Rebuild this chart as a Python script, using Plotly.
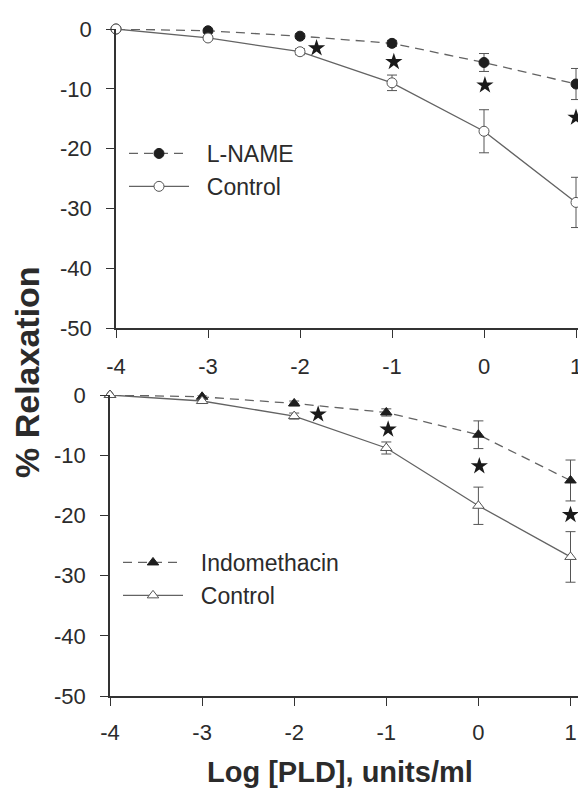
import plotly.graph_objects as go

# Log concentration of PLD (units/ml)
log_pld = [-4, -3, -2, -1, 0, 1]

# Upper panel: L-NAME vs control
lname_mean = [0, -0.3, -1.2, -2.4, -5.6, -9.2]
lname_sem = [0, 0.3, 0.4, 0.5, 1.5, 2.6]
control_a_mean = [0, -1.5, -3.8, -9.0, -17.1, -29.0]
control_a_sem = [0, 0.3, 0.5, 1.3, 3.6, 4.2]
sig_a_x = [-1.82, -0.98, 0.01, 1.0]
sig_a_y = [-3.2, -5.5, -9.4, -14.8]

# Lower panel: indomethacin vs control
indo_mean = [0, -0.3, -1.4, -2.9, -6.6, -14.2]
indo_sem = [0, 0.3, 0.4, 0.6, 2.3, 3.4]
control_b_mean = [0, -1.0, -3.5, -8.8, -18.4, -26.9]
control_b_sem = [0, 0.3, 0.5, 1.0, 3.1, 4.2]
sig_b_x = [-1.74, -0.98, 0.01, 1.0]
sig_b_y = [-3.2, -5.7, -11.8, -19.9]

y_ticks = [0, -10, -20, -30, -40, -50]
y_ticktext = ["0", "-10", "-20", "-30", "-40", "-50"]
x_ticks = [-4, -3, -2, -1, 0, 1]
x_ticktext = ["-4", "-3", "-2", "-1", "0", "1"]

W, H = 578, 789
FONT = "Arial, Liberation Sans, sans-serif"
INK = "#2b2b2b"
LINE = "#636363"
NB = "\u00a0\u00a0"

fig = go.Figure()


def add_series(x, y, err, name, symbol, filled, dash, xa, ya, legend):
    fig.add_trace(go.Scatter(
        x=x, y=y, name=NB + name, mode="lines+markers",
        xaxis=xa, yaxis=ya, legend=legend, cliponaxis=False,
        line=dict(color=LINE, width=1.3, dash=dash),
        marker=dict(symbol=symbol, size=10,
                    color="#1e1e1e" if filled else "white",
                    line=dict(color="#1e1e1e" if filled else "#555", width=1)),
        error_y=dict(type="data", array=err, visible=True,
                     color="#555", thickness=1, width=5),
    ))


add_series(log_pld, lname_mean, lname_sem, "L-NAME", "circle", True,
           "9px,6px", "x", "y", "legend")
add_series(log_pld, control_a_mean, control_a_sem, "Control", "circle",
           False, "solid", "x", "y", "legend")
add_series(log_pld, indo_mean, indo_sem, "Indomethacin", "triangle-up", True,
           "9px,6px", "x2", "y2", "legend2")
add_series(log_pld, control_b_mean, control_b_sem, "Control", "triangle-up",
           False, "solid", "x2", "y2", "legend2")

for sx, sy, xa, ya in [(sig_a_x, sig_a_y, "x", "y"), (sig_b_x, sig_b_y, "x2", "y2")]:
    fig.add_trace(go.Scatter(
        x=sx, y=sy, mode="markers", xaxis=xa, yaxis=ya, showlegend=False,
        cliponaxis=False,
        marker=dict(symbol="star", size=13, color="#1a1a1a",
                    line=dict(width=0)),
    ))

# pixel geometry of the two panels
top_x0, top_step = 116, 92.0
bot_x0, bot_step = 110, 92.1
top_y0, top_y1 = 29, 328
bot_y0, bot_y1 = 395, 696


def py(p):
    return 1 - p / H


axis_common = dict(
    showline=True, linecolor="#333", linewidth=1.5,
    ticks="outside", ticklen=8, tickwidth=1.2, tickcolor="#333",
    showgrid=False, zeroline=False, automargin=False,
    tickfont=dict(family=FONT, size=22, color=INK),
)

legend_common = dict(
    xanchor="left", yanchor="top", bgcolor="rgba(0,0,0,0)", itemwidth=60,
    font=dict(family=FONT, size=23, color=INK), tracegroupgap=0,
)

fig.update_layout(
    template="none",
    width=W, height=H,
    margin=dict(l=0, r=0, t=0, b=0, pad=0, autoexpand=False),
    paper_bgcolor="white", plot_bgcolor="white",
    xaxis=dict(axis_common, domain=[top_x0 / W, 1],
               range=[-4, -4 + (W - top_x0) / top_step],
               tickvals=x_ticks, ticktext=x_ticktext, ticklabelstandoff=10,
               ticklabeloverflow="allow", anchor="y"),
    yaxis=dict(axis_common, domain=[py(top_y1), py(top_y0)],
               range=[-50, 0], tickvals=y_ticks, ticktext=y_ticktext,
               ticklabelstandoff=10, anchor="x"),
    xaxis2=dict(axis_common, domain=[bot_x0 / W, 1],
                range=[-4, -4 + (W - bot_x0) / bot_step],
                tickvals=x_ticks, ticktext=x_ticktext, ticklabelstandoff=8,
                ticklabeloverflow="allow", anchor="y2"),
    yaxis2=dict(axis_common, domain=[py(bot_y1), py(bot_y0)],
                range=[-50, 0], tickvals=y_ticks, ticktext=y_ticktext,
                ticklabelstandoff=10, anchor="x2"),
    legend=dict(legend_common, x=124 / W, y=py(132)),
    legend2=dict(legend_common, x=118 / W, y=py(541)),
    annotations=[
        dict(text="<b>% Relaxation</b>", xref="paper", yref="paper",
             x=27 / W, y=py(372), xanchor="center", yanchor="middle",
             textangle=-90, showarrow=False,
             font=dict(family=FONT, size=34, color=INK)),
        dict(text="<b>Log [PLD], units/ml</b>", xref="paper", yref="paper",
             x=340 / W, y=py(772), xanchor="center", yanchor="middle",
             showarrow=False, font=dict(family=FONT, size=29, color=INK)),
    ],
)

fig.write_html("out.html")
